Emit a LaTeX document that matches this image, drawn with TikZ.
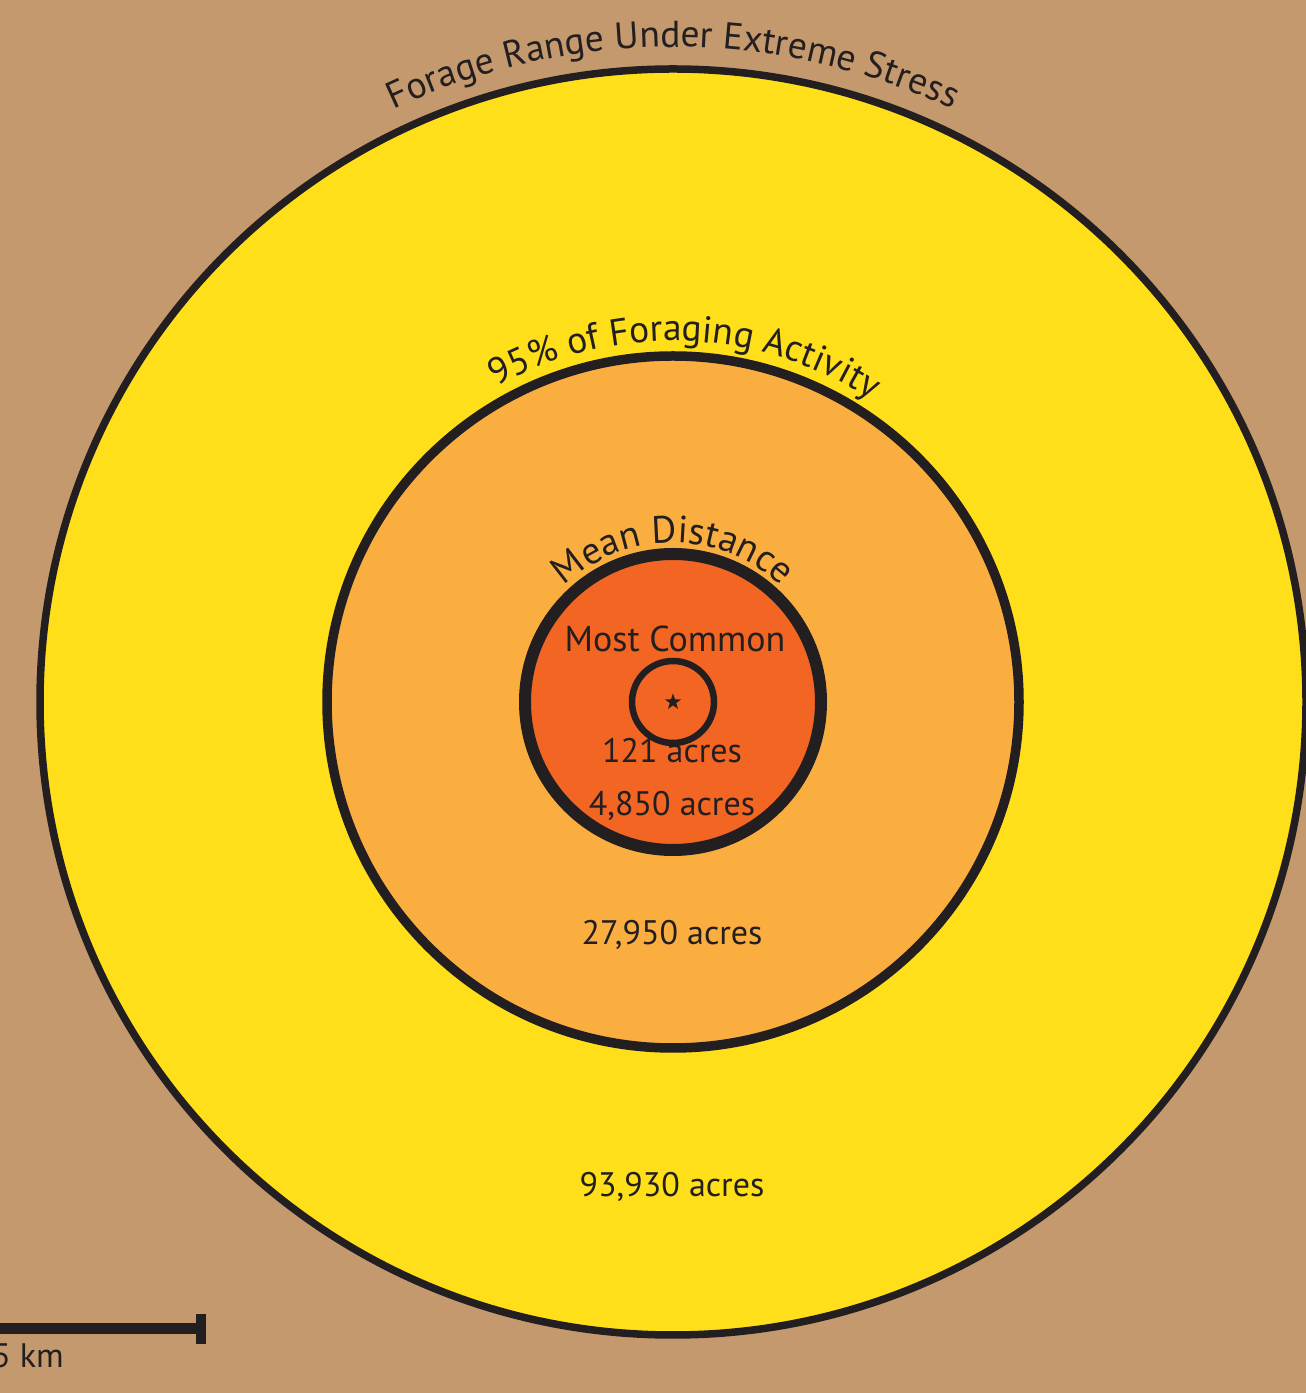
\documentclass[tikz,border=0pt]{standalone}
\usepackage{fontspec}
\setmainfont{PT Sans}
\usetikzlibrary{decorations.text,shapes.geometric,calc}
\definecolor{bgtan}{HTML}{C4996D}
\definecolor{ringyellow}{HTML}{FFDE1A}
\definecolor{ringlight}{HTML}{FBAE40}
\definecolor{ringdark}{HTML}{F26522}
\definecolor{ink}{HTML}{231F20}
\newcommand\arcfontA{\fontsize{37.5}{44}\selectfont}
\newcommand\arcfontB{\fontsize{38}{44}\selectfont}
\newcommand\pctsign{\%}
\begin{document}
\begin{tikzpicture}[x=1pt,y=1pt,
  ring/.style={draw=ink,circle,inner sep=0pt,minimum size=#1},
  lbl/.style={text=ink,font=\fontsize{34}{40}\selectfont,inner sep=0pt,anchor=base},
  arclbl/.style={decorate,decoration={text along path,text align=center,text color=ink}}]
\useasboundingbox (0,0) rectangle (1306,1393);
\clip (0,0) rectangle (1306,1393);
\fill[bgtan] (0,0) rectangle (1306,1393);
\coordinate (C) at (673,691);
% rings
\node[ring=1266pt,fill=ringyellow,line width=7.5pt] (outer) at (C) {};
\node[ring=692pt,fill=ringlight,line width=9.5pt] (mid) at (C) {};
\node[ring=296pt,fill=ringdark,line width=12pt] (mean) at (C) {};
\node[ring=82pt,line width=6.5pt] (inner) at (C) {};
% star at the centre
\fill[ink] ($(C)+(90:8.5)$) -- ($(C)+(126:3.4)$) -- ($(C)+(162:8.5)$) -- ($(C)+(198:3.4)$)
  -- ($(C)+(234:8.5)$) -- ($(C)+(270:3.4)$) -- ($(C)+(306:8.5)$) -- ($(C)+(342:3.4)$)
  -- ($(C)+(18:8.5)$) -- ($(C)+(54:3.4)$) -- cycle;
% arc labels
\path[arclbl,decoration={text={|\arcfontA|Forage Range Under Extreme Stress}}]
  (18,691) arc[start angle=180,end angle=0,radius=655];
\path[arclbl,decoration={text={|\arcfontA|95{\pctsign} of Foraging Activity}}]
  ($(C)+(178:361)$) arc[start angle=178,end angle=-2,radius=361];
\path[arclbl,decoration={text={|\arcfontB|Mean Distance}}]
  (514,691) arc[start angle=180,end angle=0,radius=159];
% labels
\node[lbl,font=\fontsize{36}{42}\selectfont] (most) at (675,1393-652) {Most Common};
\node[lbl] (a121) at (672,1393-763) {121 acres};
\node[lbl] (a4850) at (672,1393-816) {4,850 acres};
\node[lbl] (a27950) at (672,1393-945) {27,950 acres};
\node[lbl] (a93930) at (672,1393-1197) {93,930 acres};
% scale bar
\coordinate (sbL) at (-10,1393-1329);
\coordinate (sbR) at (200,1393-1329);
\draw[ink,line width=11pt] (sbL) -- (sbR);
\fill[ink] ($(sbR)+(-4,-15)$) rectangle ($(sbR)+(6,15)$);
\node[lbl,anchor=base east] (km) at (64,1393-1368) {5 km};
\end{tikzpicture}
\end{document}
